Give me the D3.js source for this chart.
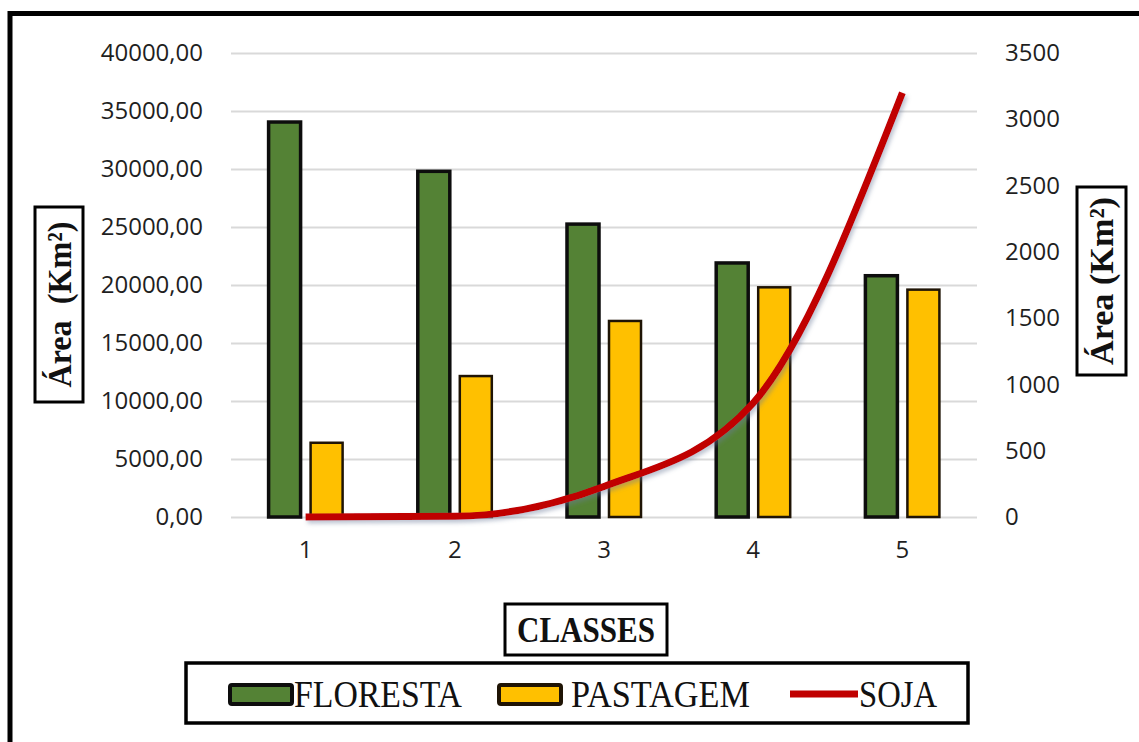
<!DOCTYPE html>
<html>
<head>
<meta charset="utf-8">
<script src="https://cdn.jsdelivr.net/npm/d3@7"></script>
<style>
  html, body { margin: 0; padding: 0; background: #fff; }
  svg { display: block; }
  .tick text { font-family: "Open Sans", sans-serif; font-size: 24px; fill: #1f1f1f; }
  .serif { font-family: "Liberation Serif", "Times New Roman", serif; fill: #111; }
</style>
</head>
<body>
<svg id="chart" width="1139" height="742"></svg>
<script>
// Land-cover area per class (km²)
const classes = ["1", "2", "3", "4", "5"];
const floresta = [34050, 29800, 25250, 21900, 20800];
const pastagem = [6400, 12150, 16900, 19800, 19600];
const soja = [0, 5, 230, 860, 3200];
const seriesNames = ["FLORESTA", "PASTAGEM"];
const leftTicks = [0, 5000, 10000, 15000, 20000, 25000, 30000, 35000, 40000];
const rightTicks = [0, 500, 1000, 1500, 2000, 2500, 3000, 3500];

const colors = { FLORESTA: "#548235", PASTAGEM: "#ffc000", SOJA: "#c00000" };
const strokes = { FLORESTA: "#0d0d0d", PASTAGEM: "#1f1405" };

const svg = d3.select("#chart");
const plot = { left: 231, right: 977, top: 53, bottom: 517 };

const x0 = d3.scaleBand().domain(classes).range([plot.left, plot.right]).padding(0);
const x1 = d3.scaleBand().domain(seriesNames).range([0, x0.bandwidth()])
  .paddingInner(0.238).paddingOuter(0.895);
const yL = d3.scaleLinear().domain([0, 40000]).range([plot.bottom, plot.top]);
const yR = d3.scaleLinear().domain([0, 3500]).range([plot.bottom, plot.top]);

// drop shadow for the SOJA line
const defs = svg.append("defs");
const f = defs.append("filter").attr("id", "shadow").attr("x", "-10%").attr("y", "-10%")
  .attr("width", "130%").attr("height", "130%");
f.append("feDropShadow").attr("dx", 2).attr("dy", 3).attr("stdDeviation", 2)
  .attr("flood-color", "#6b7a99").attr("flood-opacity", 0.45);

// outer frame
svg.append("path")
  .attr("d", `M10,745 L10,13.5 L1145,13.5`)
  .attr("fill", "none").attr("stroke", "#000").attr("stroke-width", 5);

// gridlines
svg.append("g")
  .attr("transform", `translate(${plot.left},0)`)
  .call(d3.axisLeft(yL).tickValues(leftTicks).tickSize(-(plot.right - plot.left)).tickFormat(""))
  .call(g => g.select(".domain").remove())
  .call(g => g.selectAll("line").attr("stroke", "#d9d9d9").attr("stroke-width", 2));

// left axis
const fmtL = d => d3.format(".2f")(d).replace(".", ",");
svg.append("g")
  .attr("transform", `translate(${plot.left},0)`)
  .call(d3.axisLeft(yL).tickValues(leftTicks).tickSize(0).tickPadding(28).tickFormat(fmtL))
  .call(g => g.select(".domain").remove());

// right axis
svg.append("g")
  .attr("transform", `translate(${plot.right},0)`)
  .call(d3.axisRight(yR).tickValues(rightTicks).tickSize(0).tickPadding(28).tickFormat(d3.format("d")))
  .call(g => g.select(".domain").remove());

// category axis
svg.append("g")
  .attr("transform", `translate(0,${plot.bottom})`)
  .call(d3.axisBottom(x0).tickSize(0).tickPadding(24))
  .call(g => g.select(".domain").remove());

// bars
const rows = classes.map((c, i) => ({ c, FLORESTA: floresta[i], PASTAGEM: pastagem[i] }));
const groups = svg.append("g").selectAll("g").data(rows).join("g")
  .attr("transform", d => `translate(${x0(d.c)},0)`);
groups.selectAll("rect")
  .data(d => seriesNames.map(k => ({ k, v: d[k] })))
  .join("rect")
  .attr("x", d => x1(d.k))
  .attr("width", x1.bandwidth())
  .attr("y", d => yL(d.v))
  .attr("height", d => yL(0) - yL(d.v))
  .attr("fill", d => colors[d.k])
  .attr("stroke", d => strokes[d.k])
  .attr("stroke-width", d => d.k === "FLORESTA" ? 3.5 : 2.5);

// SOJA line on the secondary axis
const line = d3.line()
  .x((d, i) => x0(classes[i]) + x0.bandwidth() / 2)
  .y(d => yR(d))
  .curve(d3.curveMonotoneX);
svg.append("path")
  .datum(soja)
  .attr("d", line)
  .attr("fill", "none")
  .attr("stroke", colors.SOJA)
  .attr("stroke-width", 7)
  .attr("filter", "url(#shadow)");

// axis titles in boxes
function boxedTitle(cx, cy, w, h, text, len, size, rotate) {
  const g = svg.append("g").attr("transform", `translate(${cx},${cy})`);
  g.append("rect").attr("x", -w / 2).attr("y", -h / 2).attr("width", w).attr("height", h)
    .attr("fill", "#fff").attr("stroke", "#000").attr("stroke-width", 3);
  g.append("text").attr("class", "serif")
    .attr("transform", rotate ? "rotate(-90)" : null)
    .attr("text-anchor", "middle").attr("dy", "0.34em")
    .attr("font-size", size).attr("font-weight", "bold")
    .attr("textLength", len).attr("lengthAdjust", "spacingAndGlyphs")
    .text(text);
}
boxedTitle(59, 304.5, 48, 195, "Área\u00a0\u00a0(Km²)", 166, 34, true);
boxedTitle(1101.5, 281, 49, 188, "Área (Km²)", 168, 34, true);
boxedTitle(586, 629.5, 162, 51, "CLASSES", 138, 36, false);

// legend
const lg = svg.append("g");
lg.append("rect").attr("x", 186).attr("y", 663).attr("width", 782).attr("height", 60)
  .attr("fill", "#fff").attr("stroke", "#000").attr("stroke-width", 3.5);
const legendItems = [
  { k: "FLORESTA", sx: 230, tx: 294, len: 168 },
  { k: "PASTAGEM", sx: 499, tx: 571, len: 179 },
  { k: "SOJA", sx: 790, tx: 859, len: 78 }
];
legendItems.forEach(it => {
  if (it.k === "SOJA") {
    lg.append("line").attr("x1", it.sx).attr("x2", it.sx + 68).attr("y1", 694).attr("y2", 694)
      .attr("stroke", colors.SOJA).attr("stroke-width", 7);
  } else {
    lg.append("rect").attr("x", it.sx).attr("y", 685).attr("width", 62).attr("height", 19)
      .attr("rx", 2).attr("fill", colors[it.k]).attr("stroke", strokes[it.k]).attr("stroke-width", 4);
  }
  lg.append("text").attr("class", "serif").attr("x", it.tx).attr("y", 694).attr("dy", "0.35em")
    .attr("font-size", 38)
    .attr("textLength", it.len).attr("lengthAdjust", "spacingAndGlyphs")
    .text(it.k);
});
</script>
</body>
</html>
